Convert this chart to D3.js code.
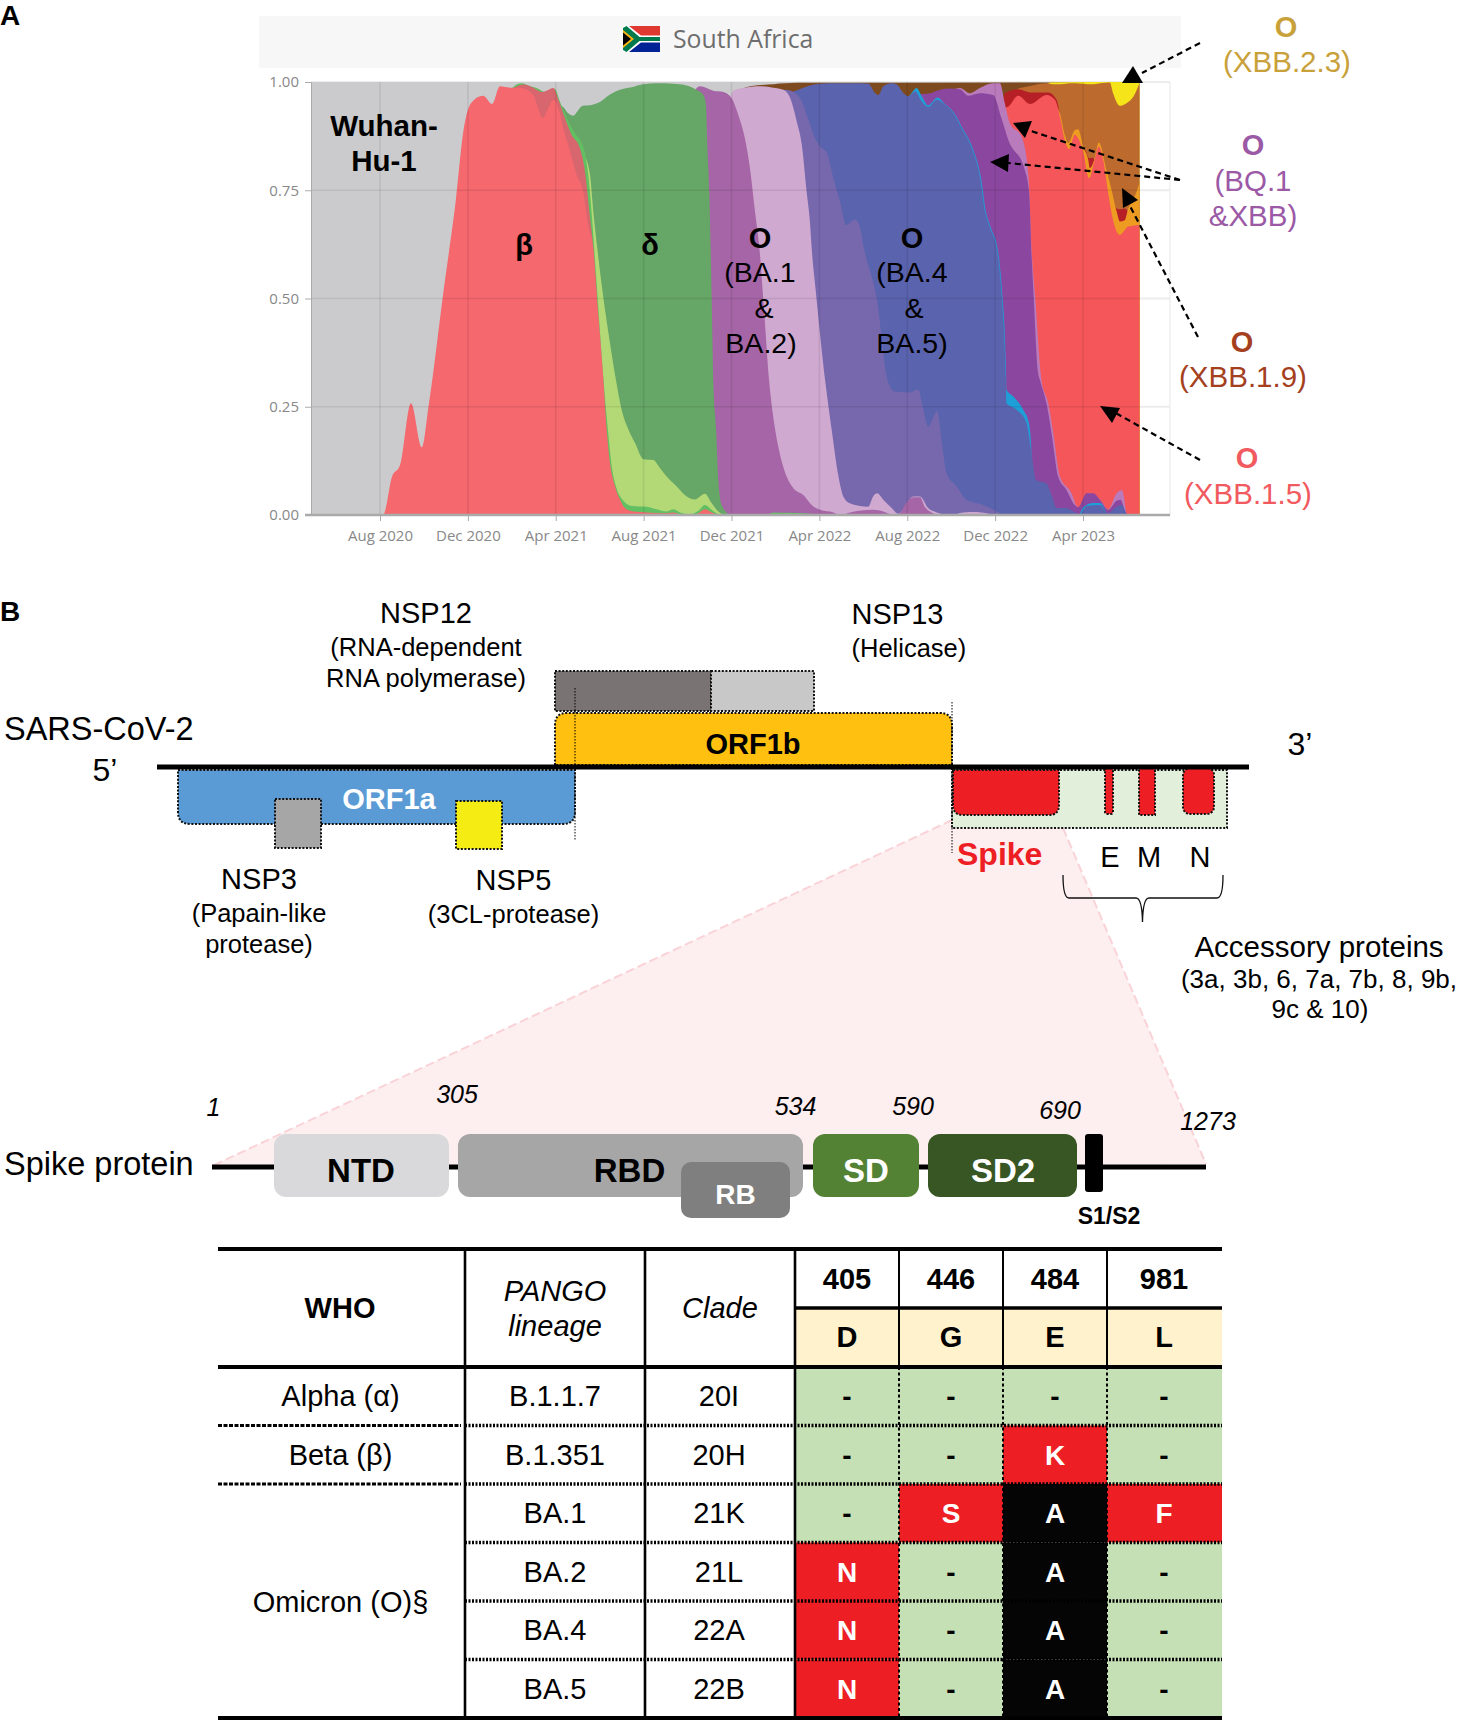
<!DOCTYPE html>
<html>
<head>
<meta charset="utf-8">
<script src="https://cdn.jsdelivr.net/npm/d3@7"></script>
<style>
  body { margin: 0; background: #fff; }
  svg { display: block; font-family: "Liberation Sans", Arial, sans-serif; }
</style>
</head>
<body>
<div id="chart"></div>
<script>
// x values are months counted from Jan 2020, y values are the top edge of each band
const tickMonths = [7, 11, 15, 19, 23, 27, 31, 35, 39];
const tickLabels = ["Aug 2020", "Dec 2020", "Apr 2021", "Aug 2021", "Dec 2021", "Apr 2022", "Aug 2022", "Dec 2022", "Apr 2023"];
const shareTicks = [0, 0.25, 0.5, 0.75, 1];

const wuhan = [[3.86,1],[41.57,1]];
const darkBrown = [[23.1,.975],[23.85,.99],[24.9,.995],[26,.998],[41.57,.999]];
const xbb23 = [[37.3,.99],[37.5,.999],[41,1],[41.57,1]];
const xbb19 = [[35.4,.95],[35.52,.97],[35.75,.978],[36.13,.986],[36.58,.991],[37.4,.997],[37.6,.995],[38,.995],[38.4,.997],[39,.996],[39.2,.995],[39.5,.995],[39.8,.997],[40.22,.999],[40.37,.974],[40.68,.945],[40.98,.951],[41.29,.966],[41.57,.997]];
const darkRed = [[35.3,.93],[35.44,.974],[36.05,.983],[36.58,.976],[37.42,.976],[37.8,.959],[38.02,.905],[38.17,.866],[38.33,.84],[39,.84],[39.09,.843],[39.28,.824],[39.46,.825],[39.6,.8],[40.3,.74],[40.45,.712],[40.68,.706],[40.9,.708],[41.06,.7]];
const orange = [[37.7,.95],[37.95,.928],[38.17,.878],[38.33,.859],[38.63,.889],[38.78,.891],[39.01,.851],[39.24,.82],[39.31,.801],[39.51,.82],[39.72,.86],[40.07,.797],[40.3,.751],[40.53,.701],[40.68,.678],[40.9,.681],[41.06,.708],[41.29,.728],[41.57,.766]];
const xbb15 = [[35.3,.9],[35.44,.94],[35.6,.943],[36.05,.968],[36.58,.949],[37.34,.97],[37.72,.959],[37.95,.92],[38.17,.866],[38.36,.845],[38.63,.878],[38.78,.87],[39.01,.839],[39.28,.778],[39.49,.812],[39.72,.851],[39.92,.82],[40.15,.743],[40.37,.681],[40.68,.647],[41.06,.666],[41.57,.67]];
const xbb = [[33,.98],[33.4,.986],[33.85,.974],[34.3,.986],[34.91,.997],[35.22,.997],[35.44,.951],[35.67,.905],[36.2,.874],[36.51,.789],[36.69,.589],[36.8,.52],[37.11,.312],[37.42,.258],[37.65,.189],[37.95,.089],[38.48,.05],[38.71,.021],[38.86,.016],[39.24,.05],[39.54,.046],[39.85,.031],[40.15,.013],[40.53,.05],[40.76,.058],[40.98,0]];
const bq1 = [[31.2,.95],[31.58,.971],[32.04,.974],[32.5,.982],[32.94,.985],[33.4,.983],[33.77,.968],[34.3,.974],[34.91,.97],[35.29,.916],[35.6,.866],[36.35,.797],[36.55,.743],[36.67,.589],[36.74,.52],[36.95,.33],[37.04,.312],[37.34,.258],[37.57,.189],[37.87,.089],[38.25,.058],[38.63,.023],[38.78,.018],[39.16,.05],[39.47,.05],[39.77,.035],[40.15,.012],[40.53,.033],[40.71,.035],[40.91,.01],[41.06,0]];
const cyan = [[30.9,.96],[31.13,.97],[31.43,.986],[31.66,.967],[31.96,.946],[32.37,.964],[32.68,.951],[33.14,.928],[33.52,.893],[33.98,.847],[34.36,.778],[34.58,.701],[34.81,.663],[35.11,.616],[35.31,.52],[35.49,.35],[35.52,.289],[35.82,.274],[36.28,.243],[36.54,.212],[36.66,.142],[36.7,.08],[37.5,.03],[37.8,.01],[38.8,0],[39.01,.018],[39.47,.028],[39.77,.028],[40.07,.004]];
const ba5 = [[25.4,.97],[25.82,.978],[26.27,.987],[27.03,.996],[27.94,.997],[28.55,.997],[29.23,.996],[29.54,.974],[29.69,.97],[29.91,.99],[30.29,.997],[30.52,.994],[30.83,.974],[31.05,.967],[31.36,.978],[31.66,.955],[31.96,.942],[32.34,.959],[32.64,.951],[33.1,.928],[33.48,.893],[33.94,.847],[34.32,.778],[34.54,.701],[34.77,.663],[35.07,.616],[35.28,.52],[35.49,.312],[35.52,.258],[35.98,.243],[36.43,.212],[36.66,.142],[36.86,.081],[37.34,.073],[37.57,.046],[37.8,.016],[38.25,.016],[38.56,.008],[38.86,.002],[39.16,.021],[39.77,.023],[40.15,.004],[40.45,.016],[40.76,.023],[40.98,0]];
const ba4 = [[25.2,.97],[25.44,.982],[25.82,.977],[26.2,.955],[26.5,.913],[26.8,.87],[27.03,.851],[27.34,.836],[27.64,.778],[27.94,.724],[28.22,.67],[28.62,.682],[28.82,.67],[29.03,.616],[29.62,.497],[30.1,.312],[30.44,.285],[31.12,.283],[31.5,.29],[31.7,.25],[31.96,.204],[32.37,.24],[32.56,.173],[32.79,.096],[33.25,.066],[33.7,.035],[34.46,.023],[35.07,.008],[35.37,0]];
const ba2 = [[22.7,.9],[23.08,.98],[23.54,.986],[24.3,.99],[24.9,.987],[25.36,.982],[25.67,.963],[25.97,.909],[26.2,.855],[26.42,.747],[26.58,.67],[26.65,.616],[26.83,.52],[27.26,.312],[27.56,.197],[27.87,.089],[28.09,.043],[28.39,.027],[28.85,.021],[29.22,.019],[29.45,.043],[29.63,.05],[29.91,.035],[30.29,.016],[30.59,.003],[30.74,.008],[31.27,.043],[31.58,.043],[31.95,.016],[32.34,.006],[32.94,0],[33.55,.006],[34.16,.007],[34.61,.004],[34.91,0]];
const ba1 = [[21.2,.97],[21.56,.99],[22.17,.98],[22.63,.977],[23,.963],[23.31,.924],[23.61,.87],[23.84,.801],[24.07,.701],[24.27,.616],[24.5,.46],[24.71,.312],[24.88,.235],[25.13,.158],[25.51,.089],[25.82,.062],[26.27,.046],[26.65,.023],[27.03,.012],[27.64,.006],[27.94,0],[28.39,.006],[29.45,.012],[29.91,.008],[30.36,0],[30.67,.004],[30.89,.023],[31.27,.041],[31.58,.041],[31.8,.019],[32.1,.006],[32.49,0]];
const delta = [[15.1,.9],[15.27,.944],[15.57,.928],[15.8,.922],[15.98,.932],[16.22,.945],[16.63,.947],[17.01,.954],[17.47,.971],[17.92,.982],[18.45,.988],[18.99,.995],[19.59,.997],[20.35,.996],[20.96,.992],[21.41,.982],[21.72,.97],[21.84,.947],[21.9,.855],[21.99,.747],[22.05,.616],[22.09,.52],[22.17,.312],[22.3,.197],[22.4,.081],[22.55,.023],[22.93,0]];
const ay = [[16.3,.83],[16.56,.786],[16.71,.701],[16.89,.616],[17.12,.52],[17.4,.42],[17.74,.312],[18,.243],[18.31,.197],[18.61,.166],[18.99,.129],[19.44,.127],[19.75,.108],[20.05,.089],[20.51,.066],[20.96,.043],[21.34,.036],[21.79,.049],[22.1,.027],[22.4,.008],[22.63,0]];
const gamma = [[13,.985],[13.22,.994],[13.45,.997],[13.75,.992],[14.13,.986],[14.51,.977],[14.74,.981],[14.96,.984],[15.19,.955],[15.5,.917],[15.87,.882],[16.18,.859],[16.33,.836],[16.48,.786],[16.63,.701],[16.74,.624],[16.87,.53],[17.17,.315],[17.39,.189],[17.55,.112],[17.77,.062],[18.08,.033],[18.46,.021],[19.14,.019],[19.6,.013],[20.05,.008],[20.35,.013],[20.66,.006],[21.11,.002],[21.49,.01],[21.79,.023],[22.1,.012],[22.4,.002],[22.63,0],[24.6,0],[24.9,.006],[25.6,.005],[26.6,.003],[27,0]];
const alpha = [[12.9,.98],[13.52,.994],[13.98,.987],[14.36,.977],[14.58,.98],[14.89,.986],[15.12,.959],[15.42,.917],[15.72,.878],[16.1,.847],[16.33,.794],[16.53,.701],[16.71,.616],[16.85,.52]];
const beta = [[7,0],[7.14,0],[7.55,.089],[7.91,.115],[8.41,.258],[8.9,.156],[9.23,.258],[9.9,.52],[10.45,.727],[10.78,.881],[11.14,.951],[11.69,.968],[12.1,.949],[12.46,.99],[12.92,.987],[13.37,.987],[13.98,.97],[14.2,.94],[14.4,.917],[14.66,.94],[14.89,.959],[15.12,.94],[15.34,.894],[15.65,.84],[15.95,.786],[16.25,.747],[16.48,.67],[16.71,.616],[16.85,.52],[17.17,.312],[17.32,.197],[17.47,.12],[17.7,.066],[17.93,.035],[18.15,.016],[18.53,.008],[19.14,.006],[19.9,.004],[20.35,.006],[20.66,.002],[21.11,0],[21.49,.004],[21.79,.013],[22.1,.006],[22.4,0]];

// painted from the top band down, so every later band covers the one above it
const bands = [
  [wuhan, "#cbcbcd"], [darkBrown, "#7d4a1f"], [xbb23, "#f5e41a"], [xbb19, "#bd6a2f"],
  [darkRed, "#b71f26"], [orange, "#ee9b22"], [xbb15, "#f4565a"], [xbb, "#b97bbb"],
  [bq1, "#8b479f"], [cyan, "#1e9fd8"], [ba5, "#5a63ad"], [ba4, "#7768ae"],
  [ba2, "#cfa9d0"], [ba1, "#a565a6"], [delta, "#66a667"], [ay, "#b3d977"],
  [gamma, "#62bf62"], [alpha, "#d8666e"], [beta, "#f4686e"]
];

// table values
const whoNames = ["Alpha (α)", "Beta (β)", "Omicron (O)§"];
const lineages = ["B.1.1.7", "B.1.351", "BA.1", "BA.2", "BA.4", "BA.5"];
const clades = ["20I", "20H", "21K", "21L", "22A", "22B"];
const positions = ["405", "446", "484", "981"];
const wildType = ["D", "G", "E", "L"];
const mutations = [
  ["-", "-", "-", "-"],
  ["-", "-", "K", "-"],
  ["-", "S", "A", "F"],
  ["N", "-", "A", "-"],
  ["N", "-", "A", "-"],
  ["N", "-", "A", "-"]
];

let width = 1457, height = 1720;
let svg = d3.select("#chart").append("svg").attr("width", width).attr("height", height);

let text = (x, y, str, size, opts = {}) => svg.append("text")
  .attr("x", x).attr("y", y)
  .attr("font-size", size)
  .attr("text-anchor", opts.anchor || "middle")
  .attr("font-weight", opts.bold ? "bold" : null)
  .attr("font-style", opts.italic ? "italic" : null)
  .attr("font-family", opts.family || null)
  .attr("fill", opts.fill || "#000")
  .text(str);

let box = (x, y, w, h, fill, opts = {}) => svg.append("rect")
  .attr("x", x).attr("y", y).attr("width", w).attr("height", h)
  .attr("rx", opts.r || 0).attr("ry", opts.r || 0)
  .attr("fill", fill)
  .attr("stroke", opts.dotted ? "#111" : "none")
  .attr("stroke-width", 2)
  .attr("stroke-dasharray", opts.dotted ? "2 1.6" : null);

let line = (x1, y1, x2, y2, w, dash) => svg.append("line")
  .attr("x1", x1).attr("y1", y1).attr("x2", x2).attr("y2", y2)
  .attr("stroke", "#000").attr("stroke-width", w)
  .attr("stroke-dasharray", dash || null);

let poly = (pts, fill, g = svg) => g.append("polygon").attr("points", pts.join(" ")).attr("fill", fill);

text(0, 25, "A", 28, {bold: true, anchor: "start"});
text(0, 621, "B", 28, {bold: true, anchor: "start"});

// ---- panel A ----
let x = d3.scaleLinear().domain([7, 39]).range([380, 1083]);
let y = d3.scaleLinear().domain([0, 1]).range([515, 82]);

box(259, 16, 922, 52, "#f7f7f7");
let flag = svg.append("g").attr("transform", "translate(623,26)");
poly(["0,0", "37,0", "37,13", "0,13"], "#de3831", flag);
poly(["0,13", "37,13", "37,26", "0,26"], "#002395", flag);
poly(["0,0", "6,0", "18,9.5", "37,9.5", "37,16.5", "18,16.5", "6,26", "0,26"], "#fff", flag);
poly(["0,2", "3.5,0", "16.5,11", "37,11", "37,15", "16.5,15", "3.5,26", "0,24"], "#007a4d", flag);
poly(["0,4", "11,13", "0,22"], "#ffb612", flag);
poly(["0,6.5", "8,13", "0,19.5"], "#000", flag);
text(673, 48, "South Africa", 24.8, {anchor: "start", family: "Open Sans", fill: "#6e6e6e"});

// light grid outside the coloured area
svg.append("g").selectAll("line").data(shareTicks).join("line")
  .attr("x1", 311).attr("x2", 1170)
  .attr("y1", d => y(d)).attr("y2", d => y(d))
  .attr("stroke", "#ececec").attr("stroke-width", 2);
line(1170, 82, 1170, 515, 1.5).attr("stroke", "#efefef");

let area = d3.area()
  .x(d => x(d[0]))
  .y0(y(0))
  .y1(d => y(d[1]))
  .curve(d3.curveMonotoneX);

svg.append("g").selectAll("path")
  .data(bands)
  .join("path")
  .attr("d", d => area(d[0]))
  .attr("fill", d => d[1]);

// grid shows through the colours
let plotGrid = svg.append("g").attr("stroke", "#000").attr("stroke-opacity", 0.08).attr("stroke-width", 1.6);
plotGrid.selectAll(".h").data(shareTicks.slice(1, 4)).join("line").attr("class", "h")
  .attr("x1", 311).attr("x2", x(41.57))
  .attr("y1", d => y(d)).attr("y2", d => y(d));
plotGrid.selectAll(".v").data(tickMonths).join("line").attr("class", "v")
  .attr("x1", d => x(d)).attr("x2", d => x(d))
  .attr("y1", 82).attr("y2", 515);

let yAxis = g => g
  .attr("transform", "translate(311,0)")
  .call(d3.axisLeft(y).tickValues(shareTicks).tickFormat(d3.format(".2f")).tickSize(6).tickPadding(6))
  .call(g => g.select(".domain").attr("stroke", "#aaa"))
  .call(g => g.selectAll("line").attr("stroke", "#aaa"))
  .call(g => g.selectAll("text").attr("fill", "#888").attr("font-size", 15).attr("font-family", "Open Sans"));
let xAxis = g => g
  .attr("transform", "translate(0,515)")
  .call(d3.axisBottom(x).tickValues(tickMonths).tickFormat((d, i) => tickLabels[i]).tickSize(6).tickPadding(9))
  .call(g => g.select(".domain").remove())
  .call(g => g.selectAll("line").attr("stroke", "#aaa"))
  .call(g => g.selectAll("text").attr("fill", "#888").attr("font-size", 15).attr("font-family", "Open Sans"));
svg.append("g").call(yAxis);
svg.append("g").call(xAxis);
line(305, 515, 1170, 515, 2.5).attr("stroke", "#aaa");

// labels inside the area
text(384, 136, "Wuhan-", 29.5, {bold: true});
text(384, 171, "Hu-1", 29.5, {bold: true});
text(524, 255, "β", 29, {bold: true});
text(650, 255, "δ", 29, {bold: true});
text(760, 248, "O", 29, {bold: true});
text(760, 282, "(BA.1", 28.5);
text(764, 318, "&", 28.5);
text(761, 353, "BA.2)", 28.5);
text(912, 248, "O", 29, {bold: true});
text(912, 282, "(BA.4", 28.5);
text(914, 318, "&", 28.5);
text(912, 353, "BA.5)", 28.5);

// variant call-outs on the right
text(1286, 37, "O", 29, {bold: true, fill: "#c8a13a"});
text(1287, 72, "(XBB.2.3)", 29.5, {fill: "#c8a13a"});
text(1253, 155, "O", 29, {bold: true, fill: "#9b59a6"});
text(1253, 191, "(BQ.1", 29.5, {fill: "#9b59a6"});
text(1253, 226, "&XBB)", 29.5, {fill: "#9b59a6"});
text(1242, 352, "O", 29, {bold: true, fill: "#a5401e"});
text(1243, 387, "(XBB.1.9)", 29.5, {fill: "#a5401e"});
text(1247, 468, "O", 29, {bold: true, fill: "#f15a5f"});
text(1248, 504, "(XBB.1.5)", 29.5, {fill: "#f15a5f"});

line(1200, 43, 1142, 73, 2.2, "6 4");
poly(["1122,83", "1143,83", "1133,66"], "#000");
line(1180, 180, 1028, 130, 2.2, "6 4");
poly(["1013,123", "1032,121", "1025,138"], "#000");
line(1180, 180, 1008, 163, 2.2, "6 4");
poly(["990,162", "1009,154", "1008,172"], "#000");
line(1198, 337, 1130, 206, 2.2, "6 4");
poly(["1122,188", "1138,200", "1123,208"], "#000");
line(1200, 460, 1112, 411, 2.2, "6 4");
poly(["1100,406", "1120,408", "1112,423"], "#000");

// ---- panel B: genome ----
poly(["952,820", "1063,828", "1206,1164", "210,1167"], "#fdeeef");
svg.append("polyline").attr("points", "952,820 210,1167").attr("fill", "none")
  .attr("stroke", "#f9d3d7").attr("stroke-width", 2).attr("stroke-dasharray", "9 4");
svg.append("polyline").attr("points", "1063,828 1206,1164").attr("fill", "none")
  .attr("stroke", "#f9d3d7").attr("stroke-width", 2).attr("stroke-dasharray", "9 4");

text(426, 623, "NSP12", 29);
text(426, 656, "(RNA-dependent", 25.5);
text(426, 687, "RNA polymerase)", 25.5);
text(851.5, 624, "NSP13", 29, {anchor: "start"});
text(851.5, 657, "(Helicase)", 25.5, {anchor: "start"});
text(4, 740, "SARS-CoV-2", 32.5, {anchor: "start"});
text(105, 781, "5’", 32);
text(1300, 755, "3’", 32);

box(555, 671, 156, 40, "#7a7374", {dotted: true});
box(711, 671, 103, 40, "#c8c8c8", {dotted: true});
svg.append("path").attr("d", "M555,765 V725 Q555,713 567,713 H940 Q952,713 952,725 V765 Z")
  .attr("fill", "#ffc00f").attr("stroke", "#111").attr("stroke-width", 2).attr("stroke-dasharray", "2 1.6");
text(753, 754, "ORF1b", 29, {bold: true});

box(952, 770, 275, 58, "#e2efda", {dotted: true});
svg.append("path").attr("d", "M178,770 H575 V812 Q575,824 563,824 H190 Q178,824 178,812 Z")
  .attr("fill", "#5b9bd5").attr("stroke", "#111").attr("stroke-width", 2).attr("stroke-dasharray", "2 1.6");
text(389, 809, "ORF1a", 29, {bold: true, fill: "#fff"});
box(275, 799, 46, 49, "#a6a6a6", {dotted: true});
box(456, 801, 46, 48, "#f5ec14", {dotted: true});
svg.append("path").attr("d", "M953,770 H1059 V805 Q1059,815 1049,815 H963 Q953,815 953,805 Z")
  .attr("fill", "#ed1f24").attr("stroke", "#111").attr("stroke-width", 2).attr("stroke-dasharray", "2 1.6");
box(1105, 768, 8, 46, "#ed1f24", {dotted: true, r: 2});
box(1139, 768, 16, 47, "#ed1f24", {dotted: true});
box(1183, 768, 31, 46, "#ed1f24", {dotted: true, r: 7});

line(157, 767, 1249, 767, 5);
line(575, 688, 575, 840, 1, "1.5 1.5");
line(952, 702, 952, 853, 1, "1.5 1.5");

text(259, 889, "NSP3", 29);
text(259, 922, "(Papain-like", 25.5);
text(259, 953, "protease)", 25.5);
text(513.5, 890, "NSP5", 29);
text(513.5, 923, "(3CL-protease)", 25.5);
text(957, 865, "Spike", 32, {bold: true, anchor: "start", fill: "#ed1f24"});
text(1110, 867, "E", 29);
text(1149, 867, "M", 29);
text(1200, 867, "N", 29);
svg.append("path")
  .attr("d", "M1063,875 Q1063,898 1069,898 H1136 Q1142,898 1142.5,922 Q1143,898 1149,898 H1217 Q1223,898 1223,875")
  .attr("fill", "none").attr("stroke", "#111").attr("stroke-width", 1.3);
text(1319, 957, "Accessory proteins", 29.5);
text(1319, 988, "(3a, 3b, 6, 7a, 7b, 8, 9b,", 26);
text(1320, 1018, "9c & 10)", 26);

// ---- panel B: spike protein ----
text(4, 1175, "Spike protein", 32.5, {anchor: "start"});
line(212, 1167, 1206, 1167, 5);
box(274, 1134, 175, 63, "#d9d9dc", {r: 12});
box(458, 1134, 345, 63, "#a6a6a6", {r: 12});
box(681, 1162, 109, 56, "#7f7f7f", {r: 10});
box(813, 1134, 106, 63, "#548235", {r: 12});
box(928, 1134, 149, 63, "#375623", {r: 12});
box(1085, 1134, 18, 58, "#000", {r: 3});
text(361, 1182, "NTD", 33, {bold: true});
text(629.5, 1182, "RBD", 33, {bold: true});
text(735.5, 1204, "RB", 28, {bold: true, fill: "#fff"});
text(866, 1182, "SD", 33, {bold: true, fill: "#fff"});
text(1003, 1182, "SD2", 33, {bold: true, fill: "#fff"});
text(1109, 1224, "S1/S2", 23, {bold: true});

text(213.5, 1116, "1", 25, {italic: true});
text(457, 1103, "305", 25, {italic: true});
text(795.5, 1115, "534", 25, {italic: true});
text(913, 1115, "590", 25, {italic: true});
text(1060, 1119, "690", 25, {italic: true});
text(1208, 1130, "1273", 25, {italic: true});

// ---- table ----
let rowY = d3.scalePoint().domain(d3.range(7)).range([1367, 1718]);
let rowH = rowY(1) - rowY(0);
let cellEdges = [795, 899, 1003, 1107, 1222];
let cellCentres = [847, 951, 1055, 1164];
let cellFill = d => d === "-" ? "#c5e0b4" : d === "A" ? "#050505" : "#ed1f24";

wildType.forEach((d, j) => {
  box(cellEdges[j], 1308, cellEdges[j + 1] - cellEdges[j], 58, "#fff2cc");
  text(cellCentres[j], 1289, positions[j], 29, {bold: true});
  text(cellCentres[j], 1347, d, 29, {bold: true});
});
mutations.forEach((row, i) => {
  row.forEach((d, j) => {
    box(cellEdges[j], rowY(i), cellEdges[j + 1] - cellEdges[j], rowH, cellFill(d));
  });
});

// dotted lines between the cells
[899, 1003, 1107].forEach(v => line(v, 1367, v, 1718, 2, "3 2.5"));
d3.range(1, 6).forEach(i => line(465, rowY(i), 1222, rowY(i), 3.4, "2 1.5"));
[1, 2].forEach(i => line(218, rowY(i), 461, rowY(i), 3, "4 1.5"));

mutations.forEach((row, i) => {
  let base = rowY(i) + 39;
  text(555, base, lineages[i], 29);
  text(719, base, clades[i], 29);
  row.forEach((d, j) => text(cellCentres[j], base, d, 28, {bold: true, fill: d === "-" ? "#000" : "#fff"}));
});
text(340.5, 1406, whoNames[0], 29);
text(340.5, 1465, whoNames[1], 29);
text(340.5, 1612, whoNames[2], 29);

text(340, 1318, "WHO", 29, {bold: true});
text(555, 1301, "PANGO", 29, {italic: true});
text(555, 1336, "lineage", 29, {italic: true});
text(720, 1318, "Clade", 29, {italic: true});

line(218, 1249, 1222, 1249, 4);
line(218, 1367, 1222, 1367, 4);
line(795, 1308, 1222, 1308, 3.5);
line(218, 1718, 1222, 1718, 4);
[465, 645, 795].forEach(v => line(v, 1249, v, 1718, 2.6));
[899, 1003, 1107].forEach(v => line(v, 1249, v, 1367, 2));
</script>
</body>
</html>
